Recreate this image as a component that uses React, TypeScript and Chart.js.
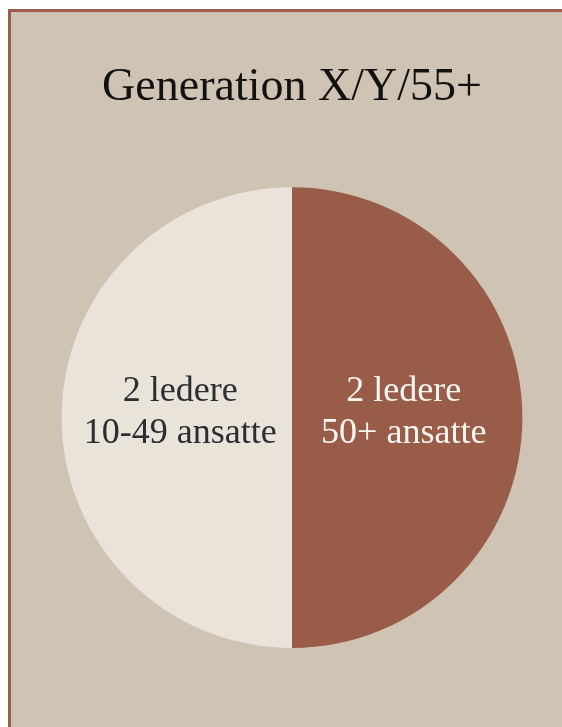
import React, { useEffect, useRef } from "react";
import { Chart, registerables } from "chart.js";

Chart.register(...registerables);

const TITLE = "Generation X/Y/55+";
const categories = ["50+ ansatte", "10-49 ansatte"];
const leaders = [2, 2];
const sliceLabels = [
  ["2 ledere", "50+ ansatte"],
  ["2 ledere", "10-49 ansatte"],
];
const sliceColors = ["#985C48", "#E9E3D9"];
const labelColors = ["#FBF7F2", "#2A2D32"];

const FONT = "'Liberation Serif', 'DejaVu Serif', serif";

const labelPlugin = {
  id: "sliceLabels",
  afterDatasetsDraw(chart: any) {
    const ctx = chart.ctx;
    const meta = chart.getDatasetMeta(0);
    meta.data.forEach((arc: any, i: number) => {
      const p = arc.getProps(["x", "y", "startAngle", "endAngle", "outerRadius"], true);
      const mid = (p.startAngle + p.endAngle) / 2;
      const r = p.outerRadius * 0.485;
      const x = p.x + Math.cos(mid) * r;
      const y = p.y + Math.sin(mid) * r;
      ctx.save();
      ctx.font = `36px ${FONT}`;
      ctx.fillStyle = labelColors[i];
      ctx.textAlign = "center";
      ctx.textBaseline = "alphabetic";
      const lines = sliceLabels[i];
      ctx.fillText(lines[0], x, y - 17);
      ctx.fillText(lines[1], x, y + 25);
      ctx.restore();
    });
  },
};

export default function App() {
  const ref = useRef<HTMLCanvasElement | null>(null);
  useEffect(() => {
    if (!ref.current) return;
    const chart = new Chart(ref.current, {
      type: "pie",
      data: {
        labels: categories,
        datasets: [
          {
            data: leaders,
            backgroundColor: sliceColors,
            borderWidth: 0,
          },
        ],
      },
      options: {
        animation: false,
        responsive: false,
        maintainAspectRatio: false,
        layout: { padding: { top: 0, bottom: 79, left: 0, right: 0 } },
        plugins: {
          legend: { display: false },
          tooltip: { enabled: false },
          title: {
            display: true,
            text: TITLE,
            color: "#111111",
            font: { family: FONT, size: 46, weight: "normal", lineHeight: 1.2 },
            padding: { top: 48, bottom: 72 },
          },
        },
      },
      plugins: [labelPlugin],
    });
    return () => chart.destroy();
  }, []);

  return (
    <div
      style={{
        position: "fixed",
        left: 8,
        top: 9,
        right: 0,
        bottom: 0,
        overflow: "hidden",
      }}
    >
      <div
        style={{
          position: "absolute",
          left: 0,
          top: 0,
          width: 620,
          height: 760,
          borderLeft: "3px solid #9C5C48",
          borderTop: "3px solid #9C5C48",
          background: "#CFC3B3",
        }}
      >
        <canvas ref={ref} width={562} height={715} style={{ display: "block", width: 562, height: 715 }} />
      </div>
    </div>
  );
}
